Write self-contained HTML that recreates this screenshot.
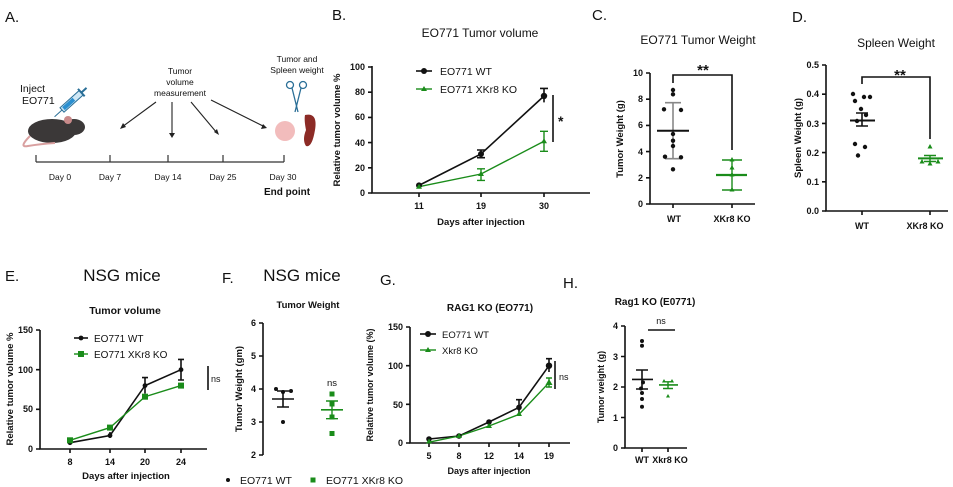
<!DOCTYPE html>
<html><head><meta charset="utf-8"><style>
body{margin:0;background:#fff}
svg{display:block}
text{font-family:"Liberation Sans",sans-serif;fill:#111}
.t{font-size:9px;font-weight:bold}
.al{font-size:9.5px;font-weight:bold}
.k{stroke:#111;stroke-width:1.6;fill:none}
.g{stroke:#1a8c1a;stroke-width:1.4;fill:none}
</style></head><body>
<svg width="953" height="487" viewBox="0 0 953 487">
<!-- Panel A -->
<text x="5" y="22" font-size="15">A.</text>
<text x="20" y="92" font-size="10.5">Inject</text>
<text x="22" y="104" font-size="10.5">EO771</text>
<g transform="translate(62,110) rotate(-42)"><rect x="0" y="-3" width="26" height="6" fill="#cfe7f5" stroke="#2a6f97" stroke-width="1"/><rect x="2" y="-2" width="14" height="4" fill="#2a8fd0"/><line x1="-10" y1="0" x2="0" y2="0" stroke="#2a6f97"/><line x1="26" y1="-5" x2="26" y2="5" stroke="#2a6f97" stroke-width="2"/><line x1="26" y1="0" x2="33" y2="0" stroke="#2a6f97" stroke-width="2"/></g>
<ellipse cx="52" cy="131" rx="24" ry="12" fill="#3b3838"/><ellipse cx="74" cy="127" rx="11" ry="8" fill="#3b3838"/><ellipse cx="68" cy="120" rx="4" ry="4" fill="#c98a8a"/>
<path d="M30 136 Q18 148 28 146 Q40 144 55 143" stroke="#d9a0a0" stroke-width="2" fill="none"/>
<text x="180" y="74" font-size="8.5" text-anchor="middle">Tumor</text>
<text x="180" y="85" font-size="8.5" text-anchor="middle">volume</text>
<text x="180" y="96" font-size="8.5" text-anchor="middle">measurement</text>
<g stroke="#222" stroke-width="1.1"><line x1="156" y1="102" x2="122" y2="127"/><line x1="172" y1="102" x2="172" y2="136"/><line x1="191" y1="102" x2="217" y2="133"/><line x1="211" y1="100" x2="265" y2="127"/></g>
<g fill="#222"><path d="M120 129l3-6 3 4z"/><path d="M172 138l-3-5h6z"/><path d="M219 135l-5-3 3-3z"/><path d="M267 128l-6 1 2-5z"/></g>
<text x="297" y="62" font-size="8.5" text-anchor="middle">Tumor and</text>
<text x="297" y="73" font-size="8.5" text-anchor="middle">Spleen weight</text>
<g stroke="#2a6f97" stroke-width="1.3" fill="none"><circle cx="290" cy="85" r="3.5"/><circle cx="303" cy="85" r="3.5"/><line x1="292" y1="88" x2="298" y2="112"/><line x1="301" y1="88" x2="295" y2="112"/></g>
<ellipse cx="285" cy="131" rx="10" ry="10" fill="#f2bcbc"/>
<path d="M305 115 Q318 112 315 130 Q312 148 306 146 Q302 140 306 130 Q304 120 305 115z" fill="#8c2b26"/>
<line x1="36" y1="162" x2="284" y2="162" stroke="#333" stroke-width="1.2"/>
<g stroke="#333" stroke-width="1.2"><line x1="36" y1="155" x2="36" y2="162"/><line x1="110" y1="155" x2="110" y2="162"/><line x1="168" y1="155" x2="168" y2="162"/><line x1="223" y1="155" x2="223" y2="162"/><line x1="284" y1="155" x2="284" y2="162"/></g>
<g font-size="8.5" text-anchor="middle"><text x="60" y="180">Day 0</text><text x="110" y="180">Day 7</text><text x="168" y="180">Day 14</text><text x="223" y="180">Day 25</text><text x="283" y="180">Day 30</text></g>
<text x="287" y="195" font-size="10" font-weight="bold" text-anchor="middle">End point</text>

<!-- Panel B -->
<text x="332" y="20" font-size="15">B.</text>
<text x="480" y="37" font-size="12" text-anchor="middle">EO771 Tumor volume</text>
<path class="k" d="M372 66V193H590"/>
<g class="k" stroke-width="1.2"><path d="M368 67h4M368 92.2h4M368 117.4h4M368 142.6h4M368 167.8h4M368 193h4M419 193v4M481 193v4M544 193v4"/></g>
<g class="t" text-anchor="end" font-size="9.5"><text x="365" y="70">100</text><text x="365" y="95">80</text><text x="365" y="120">60</text><text x="365" y="146">40</text><text x="365" y="171">20</text><text x="365" y="196">0</text></g>
<g class="t" text-anchor="middle"><text x="419" y="209">11</text><text x="481" y="209">19</text><text x="544" y="209">30</text></g>
<text x="481" y="225" class="al" text-anchor="middle">Days after injection</text>
<text transform="translate(340,130) rotate(-90)" class="al" text-anchor="middle">Relative tumor volume %</text>
<path class="k" stroke-width="1.2" d="M481 150v7.7M477 150h8M477 157.7h8M544 88.4v14M540 88.4h8"/>
<path class="g" d="M481 168.8v11.6M477 168.8h8M477 180.4h8M544 131.3v20M540 131.3h8M540 151.3h8"/>
<polyline class="k" stroke-width="1.3" points="419,185.4 481,154 544,96"/>
<polyline class="g" points="419,186.7 481,174 544,141.3"/>
<g fill="#111"><circle cx="419" cy="185.4" r="3"/><circle cx="481" cy="154" r="3"/><circle cx="544" cy="96" r="3.2"/></g>
<g fill="#1a8c1a"><path d="M419 183.7l3 5h-6z"/><path d="M481 171l3 5h-6z"/><path d="M544 138.3l3 5h-6z"/></g>
<line x1="416" y1="71" x2="432" y2="71" class="k" stroke-width="1.3"/><circle cx="424" cy="71" r="3" fill="#111"/>
<line x1="416" y1="89" x2="432" y2="89" class="g"/><path d="M424 86l3 5h-6z" fill="#1a8c1a"/>
<text x="440" y="75" font-size="10.5">EO771 WT</text><text x="440" y="93" font-size="10.5">EO771 XKr8 KO</text>
<line x1="553" y1="95" x2="553" y2="142" class="k" stroke-width="1.4"/><text x="558" y="126" font-size="14" font-weight="bold">*</text>

<!-- Panel C -->
<text x="592" y="20" font-size="15">C.</text>
<text x="698" y="44" font-size="12" text-anchor="middle">EO771 Tumor Weight</text>
<path class="k" d="M650 73V204H755"/>
<g class="k" stroke-width="1.2"><path d="M646 73h4M646 99.2h4M646 125.4h4M646 151.6h4M646 177.8h4M646 204h4M673 204v4M732 204v4"/></g>
<g class="t" text-anchor="end"><text x="643" y="76">10</text><text x="643" y="102">8</text><text x="643" y="128">6</text><text x="643" y="155">4</text><text x="643" y="181">2</text><text x="643" y="207">0</text></g>
<g class="t" text-anchor="middle"><text x="674" y="222">WT</text><text x="732" y="222">XKr8 KO</text></g>
<text transform="translate(623,139) rotate(-90)" class="al" text-anchor="middle">Tumor Weight (g)</text>
<path d="M673 83V75H732V150" class="k" stroke-width="1.3"/>
<text x="703" y="75" font-size="15" font-weight="bold" text-anchor="middle">**</text>
<path stroke="#888" stroke-width="1.6" fill="none" d="M673 102.7v56M665 102.7h16M665 158.7h16"/>
<path d="M657 130.7h32" stroke="#111" stroke-width="2"/>
<g fill="#111"><circle cx="673" cy="90" r="2.2"/><circle cx="673" cy="94.3" r="2.2"/><circle cx="664" cy="109.3" r="2.2"/><circle cx="681" cy="110" r="2.2"/><circle cx="673" cy="134" r="2.2"/><circle cx="673" cy="140.7" r="2.2"/><circle cx="673" cy="146" r="2.2"/><circle cx="665" cy="156.7" r="2.2"/><circle cx="681" cy="157.3" r="2.2"/><circle cx="673" cy="169.3" r="2.2"/></g>
<path class="g" stroke-width="1.6" d="M732 160v30M722 160h20M722 190h20"/><path d="M716 175h31" stroke="#1a8c1a" stroke-width="2.2"/>
<g fill="#1a8c1a"><path d="M732 157l2.5 4.5h-5z"/><path d="M732 172l2.5 4.5h-5z"/><path d="M732 187l2.5 4.5h-5z"/><path d="M732 165l2.5 4.5h-5z"/></g>

<!-- Panel D -->
<text x="792" y="22" font-size="15">D.</text>
<text x="896" y="47" font-size="12" text-anchor="middle">Spleen Weight</text>
<path class="k" d="M826 65V211H948"/>
<g class="k" stroke-width="1.2"><path d="M822 65h4M822 94.2h4M822 123.4h4M822 152.6h4M822 181.8h4M822 211h4M862 211v4M930 211v4"/></g>
<g class="t" text-anchor="end"><text x="819" y="68">0.5</text><text x="819" y="97">0.4</text><text x="819" y="127">0.3</text><text x="819" y="156">0.2</text><text x="819" y="185">0.1</text><text x="819" y="214">0.0</text></g>
<g class="t" text-anchor="middle"><text x="862" y="229">WT</text><text x="925" y="229">XKr8 KO</text></g>
<text transform="translate(801,138) rotate(-90)" class="al" text-anchor="middle">Spleen Weight (g)</text>
<path d="M862 84V77H930V139" class="k" stroke-width="1.3"/>
<text x="900" y="80" font-size="15" font-weight="bold" text-anchor="middle">**</text>
<path class="k" stroke-width="1.4" d="M862 113v13M856 113h12M856 126h12"/><path d="M850 120.5h25" stroke="#111" stroke-width="2"/>
<g fill="#111"><circle cx="853" cy="94" r="2.2"/><circle cx="864" cy="97" r="2.2"/><circle cx="870" cy="97" r="2.2"/><circle cx="855" cy="101" r="2.2"/><circle cx="861" cy="109" r="2.2"/><circle cx="866" cy="115" r="2.2"/><circle cx="857" cy="121" r="2.2"/><circle cx="855" cy="144" r="2.2"/><circle cx="865" cy="147" r="2.2"/><circle cx="858" cy="155.5" r="2.2"/></g>
<path class="g" stroke-width="1.4" d="M930 155.5v6M924 155.5h12M924 161.5h12"/><path d="M918 158.4h25" stroke="#1a8c1a" stroke-width="2"/>
<g fill="#1a8c1a"><path d="M930 144l2.5 4.5h-5z"/><path d="M922 159l2.5 4.5h-5z"/><path d="M930 161l2.5 4.5h-5z"/><path d="M938 159l2.5 4.5h-5z"/></g>

<!-- Panel E -->
<text x="5" y="281" font-size="15">E.</text>
<text x="122" y="281" font-size="17" text-anchor="middle">NSG mice</text>
<text x="125" y="314" font-size="10.5" font-weight="bold" text-anchor="middle">Tumor volume</text>
<path class="k" d="M40 330V449H207"/>
<g class="k" stroke-width="1.2"><path d="M36 330h4M36 369.7h4M36 409.3h4M36 449h4M70 449v4M110 449v4M145 449v4M181 449v4"/></g>
<g class="t" text-anchor="end"><text x="33" y="333">150</text><text x="33" y="373">100</text><text x="33" y="412">50</text><text x="33" y="452">0</text></g>
<g class="t" text-anchor="middle"><text x="70" y="465">8</text><text x="110" y="465">14</text><text x="145" y="465">20</text><text x="181" y="465">24</text></g>
<text x="126" y="479" class="al" text-anchor="middle">Days after injection</text>
<text transform="translate(13,389) rotate(-90)" class="al" text-anchor="middle">Relative tumor volume %</text>
<path class="k" stroke-width="1.1" d="M181 359.4v20.6M178 359.4h6M178 380h6M145 377.6v16M142 377.6h6M110 432v6"/>
<polyline class="k" stroke-width="1.2" points="70,442.7 110,435.5 145,385.6 181,369.7"/>
<polyline class="g" stroke-width="1.3" points="70,440.3 110,427.6 145,396.7 181,385.6"/>
<g fill="#111"><circle cx="70" cy="442.7" r="2.4"/><circle cx="110" cy="435.5" r="2.4"/><circle cx="145" cy="385.6" r="2.4"/><circle cx="181" cy="369.7" r="2.4"/></g>
<g fill="#1a8c1a"><rect x="67" y="437.3" width="6" height="6"/><rect x="107" y="424.6" width="6" height="6"/><rect x="142" y="393.7" width="6" height="6"/><rect x="178" y="382.6" width="6" height="6"/></g>
<line x1="74" y1="338" x2="88" y2="338" class="k" stroke-width="1.2"/><circle cx="81" cy="338" r="2.4" fill="#111"/>
<line x1="74" y1="354" x2="88" y2="354" class="g"/><rect x="78" y="351" width="6" height="6" fill="#1a8c1a"/>
<text x="94" y="342" font-size="10">EO771 WT</text><text x="94" y="358" font-size="10">EO771 XKr8 KO</text>
<line x1="208" y1="366" x2="208" y2="390" class="k" stroke-width="1.3"/><text x="211" y="382" font-size="9">ns</text>

<!-- Panel F -->
<text x="222" y="283" font-size="15">F.</text>
<text x="302" y="281" font-size="17" text-anchor="middle">NSG mice</text>
<text x="308" y="308" font-size="9.5" font-weight="bold" text-anchor="middle">Tumor Weight</text>
<path class="k" d="M263 323V455"/>
<g class="k" stroke-width="1.2"><path d="M259 323h4M259 356h4M259 389h4M259 422h4M259 455h4"/></g>
<g class="t" text-anchor="end"><text x="256" y="326">6</text><text x="256" y="359">5</text><text x="256" y="392">4</text><text x="256" y="425">3</text><text x="256" y="458">2</text></g>
<text transform="translate(242,389) rotate(-90)" class="al" text-anchor="middle">Tumor Weight (gm)</text>
<path class="k" stroke-width="1.2" stroke="#444" d="M283 391v16M277 391h12M277 407h12"/><path d="M272 399h22" stroke="#111" stroke-width="1.6"/>
<g fill="#111"><circle cx="276" cy="389" r="2"/><circle cx="283" cy="392" r="2"/><circle cx="291" cy="391" r="2"/><circle cx="283" cy="422" r="2"/></g>
<path class="g" stroke-width="1.2" stroke="#4aa84a" d="M332 401v17.7M326 401h12M326 418.7h12"/><path d="M321 409.8h22" stroke="#1a8c1a" stroke-width="1.6"/>
<g fill="#1a8c1a"><rect x="329.5" y="391.5" width="5" height="5"/><rect x="329.5" y="401.5" width="5" height="5"/><rect x="329.5" y="414.5" width="5" height="5"/><rect x="329.5" y="431" width="5" height="5"/></g>
<text x="332" y="386" font-size="9.5" text-anchor="middle">ns</text>
<circle cx="228" cy="480" r="2" fill="#111"/><text x="240" y="484" font-size="10.5">EO771 WT</text>
<rect x="310.5" y="477.5" width="5" height="5" fill="#1a8c1a"/><text x="326" y="484" font-size="10.5">EO771 XKr8 KO</text>

<!-- Panel G -->
<text x="380" y="285" font-size="15">G.</text>
<text x="490" y="311" font-size="10" font-weight="bold" text-anchor="middle">RAG1 KO (EO771)</text>
<path class="k" d="M410 327V443H570"/>
<g class="k" stroke-width="1.2"><path d="M406 327h4M406 365.7h4M406 404.3h4M406 443h4M429 443v4M459 443v4M489 443v4M519 443v4M549 443v4"/></g>
<g class="t" text-anchor="end"><text x="403" y="330">150</text><text x="403" y="369">100</text><text x="403" y="408">50</text><text x="403" y="446">0</text></g>
<g class="t" text-anchor="middle"><text x="429" y="459">5</text><text x="459" y="459">8</text><text x="489" y="459">12</text><text x="519" y="459">14</text><text x="549" y="459">19</text></g>
<text x="489" y="474" class="t" text-anchor="middle">Days after injection</text>
<text transform="translate(373,385) rotate(-90)" class="t" text-anchor="middle">Relative tumor volume (%)</text>
<path class="k" stroke-width="1.1" d="M549 358.7v13.3M546 358.7h6M519 399.7v14M516 399.7h6"/>
<path class="g" stroke-width="1.2" d="M549 378v9M546 378h6M546 387h6"/>
<polyline class="k" stroke-width="1.2" points="429,439 459,436 489,422 519,407.4 549,365.7"/>
<polyline class="g" stroke-width="1.3" points="429,442.2 459,436 489,426 519,414.4 549,382.7"/>
<g fill="#111"><circle cx="429" cy="439" r="2.8"/><circle cx="459" cy="436" r="2.8"/><circle cx="489" cy="422" r="2.8"/><circle cx="519" cy="407.4" r="2.8"/><circle cx="549" cy="365.7" r="3.2"/></g>
<g fill="#1a8c1a"><path d="M429 438.5l3 5h-6z"/><path d="M459 433l3 5h-6z"/><path d="M489 423l3 5h-6z"/><path d="M519 411l3 5h-6z"/><path d="M549 379l3.5 6h-7z"/></g>
<line x1="420" y1="334" x2="436" y2="334" class="k" stroke-width="1.3"/><circle cx="428" cy="334" r="3" fill="#111"/>
<line x1="420" y1="350" x2="436" y2="350" class="g"/><path d="M428 347l3 5h-6z" fill="#1a8c1a"/>
<text x="442" y="338" font-size="9.5">EO771 WT</text><text x="442" y="354" font-size="9.5">Xkr8 KO</text>
<line x1="555" y1="361" x2="555" y2="389" class="k" stroke-width="1.4"/><text x="559" y="380" font-size="9">ns</text>

<!-- Panel H -->
<text x="563" y="288" font-size="15">H.</text>
<text x="655" y="305" font-size="10" font-weight="bold" text-anchor="middle">Rag1 KO  (E0771)</text>
<path class="k" d="M625 326V448H687"/>
<g class="k" stroke-width="1.2"><path d="M621 326h4M621 356.5h4M621 387h4M621 417.5h4M621 448h4M642 448v4M668 448v4"/></g>
<g class="t" text-anchor="end"><text x="618" y="329">4</text><text x="618" y="360">3</text><text x="618" y="390">2</text><text x="618" y="421">1</text><text x="618" y="451">0</text></g>
<g class="t" text-anchor="middle"><text x="642" y="463">WT</text><text x="670" y="463">Xkr8 KO</text></g>
<text transform="translate(604,387) rotate(-90)" class="t" text-anchor="middle">Tumor weight (g)</text>
<line x1="648" y1="330" x2="675" y2="330" class="k" stroke-width="1.3"/><text x="661" y="324" font-size="9" text-anchor="middle">ns</text>
<path class="k" stroke-width="1.3" d="M642 370v19M636 370h12M636 389h12"/><path d="M632 379.4h21" stroke="#111" stroke-width="1.6"/>
<g fill="#111"><circle cx="642" cy="341" r="2"/><circle cx="642" cy="345.8" r="2"/><circle cx="643" cy="382.4" r="2"/><circle cx="641" cy="388.5" r="2"/><circle cx="642" cy="393" r="2"/><circle cx="642" cy="399" r="2"/><circle cx="642" cy="406.8" r="2"/></g>
<path class="g" stroke-width="1.2" stroke="#4aa84a" d="M668 381.8v6.7M663 381.8h10M663 388.5h10"/><path d="M659 384.9h19" stroke="#1a8c1a" stroke-width="1.6"/>
<g fill="#1a8c1a"><path d="M664 379l2 3.5h-4z"/><path d="M672 379l2 3.5h-4z"/><path d="M668 394l2 3.5h-4z"/></g>
</svg>
</body></html>
